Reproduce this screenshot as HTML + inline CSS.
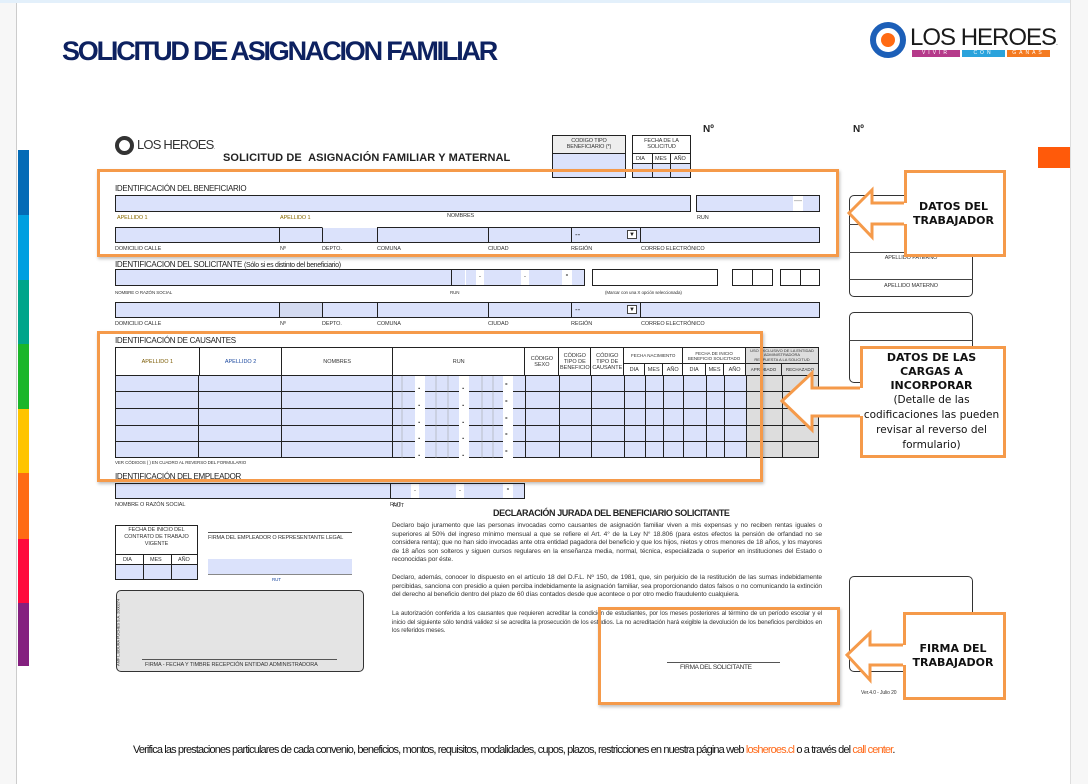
<!DOCTYPE html>
<html><head><meta charset="utf-8">
<style>
*{margin:0;padding:0;box-sizing:border-box}
body{width:1088px;height:784px;position:relative;background:#fff;font-family:"Liberation Sans",Arial,sans-serif;overflow:hidden;color:#222}
.a{position:absolute}
.f{position:absolute;background:#dbe2fb;border:1px solid #222}
.w{position:absolute;background:#fff;border:1px solid #222}
.l{position:absolute;font-size:5.5px;color:#333;white-space:nowrap;letter-spacing:-0.1px}
.o{position:absolute;border:3px solid #f59a4a;box-shadow:1px 2px 3px rgba(0,0,0,.25)}
.cb{position:absolute;border:3px solid #f59a4a;background:#fff;font-family:"DejaVu Sans",sans-serif;font-weight:bold;color:#111;text-align:center;font-size:11px;line-height:14px;display:flex;flex-direction:column;justify-content:center}
.h{position:absolute;font-size:8px;color:#222;white-space:nowrap;letter-spacing:-0.3px}
table{border-collapse:collapse;position:absolute}
td{border:1px solid #222;font-size:5.5px;text-align:center;line-height:6px;padding:0;color:#333}
.p{position:absolute;font-size:6.6px;line-height:8.5px;text-align:justify;color:#333;letter-spacing:-0.1px}
</style></head><body>
<div class="a" style="left:0;top:0;width:1088px;height:3px;background:#e3f0fb"></div>
<div class="a" style="left:0;top:3px;width:17px;height:781px;background:#f7f7f7;border-right:1px solid #ccc"></div>
<div class="a" style="left:1070px;top:0;width:18px;height:784px;background:#f7f7f7;border-left:1px solid #ddd"></div>
<div class="a" style="left:1038px;top:147px;width:32px;height:21px;background:#ff5a0a"></div>
<!-- color bars -->
<div class="a" style="left:18px;top:150px;width:11px;height:65px;background:#046bb6"></div>
<div class="a" style="left:18px;top:215px;width:11px;height:65px;background:#009fe0"></div>
<div class="a" style="left:18px;top:280px;width:11px;height:64px;background:#00a58a"></div>
<div class="a" style="left:18px;top:344px;width:11px;height:65px;background:#1bb62a"></div>
<div class="a" style="left:18px;top:409px;width:11px;height:64px;background:#ffc400"></div>
<div class="a" style="left:18px;top:473px;width:11px;height:66px;background:#ff6b14"></div>
<div class="a" style="left:18px;top:539px;width:11px;height:64px;background:#ff0a3c"></div>
<div class="a" style="left:18px;top:603px;width:11px;height:63px;background:#84207f"></div>

<div class="a" style="left:62px;top:36px;font-size:27px;font-weight:bold;color:#0d2160;letter-spacing:-2.2px;white-space:nowrap">SOLICITUD DE ASIGNACION FAMILIAR</div>

<!-- top logo -->
<div class="a" style="left:870px;top:22px;width:36px;height:36px;border-radius:50%;border:6px solid #1c5fb8"></div>
<div class="a" style="left:881px;top:33px;width:14px;height:14px;border-radius:50%;background:#ff6a13"></div>
<div class="a" style="left:910px;top:24px;font-size:24px;color:#1a1a1a;letter-spacing:-1px;white-space:nowrap">LOS HEROES<span style="font-size:7px">.</span></div>
<div class="a" style="left:912px;top:50px;width:48px;height:7px;background:#b53a8a;color:#fff;font-size:5px;text-align:center;letter-spacing:3px;line-height:7px">VIVIR</div>
<div class="a" style="left:962px;top:50px;width:43px;height:7px;background:#2aa3dc;color:#fff;font-size:5px;text-align:center;letter-spacing:3px;line-height:7px">CON</div>
<div class="a" style="left:1007px;top:50px;width:43px;height:7px;background:#f47a20;color:#fff;font-size:5px;text-align:center;letter-spacing:3px;line-height:7px">GANAS</div>

<!-- inner logo -->
<div class="a" style="left:115px;top:136px;width:19px;height:19px;border-radius:50%;border:4px solid #333"></div>
<div class="a" style="left:121px;top:142px;width:7px;height:7px;border-radius:50%;background:#fff"></div>
<div class="a" style="left:137px;top:137px;font-size:13px;color:#333;white-space:nowrap;letter-spacing:-0.8px">LOS HEROES<span style="font-size:5px">.</span></div>
<div class="a" style="left:223px;top:152px;font-size:11px;font-weight:bold;color:#222;white-space:nowrap;letter-spacing:0.1px">SOLICITUD DE &nbsp;ASIGNACIÓN FAMILIAR Y MATERNAL</div>
<div class="a" style="left:703px;top:124px;font-size:10px;font-weight:bold">Nº</div>
<div class="a" style="left:853px;top:124px;font-size:10px;font-weight:bold">Nº</div>

<!-- codigo / fecha boxes -->
<div class="a" style="left:552px;top:135px;width:74px;height:43px;border:1px solid #222;background:#eee"></div>
<div class="a" style="left:553px;top:153px;width:72px;height:24px;background:#dbe2fb;border-top:1px solid #222"></div>
<div class="l" style="left:553px;top:138px;width:72px;text-align:center;line-height:6px">CODIGO TIPO<br>BENEFICIARIO (*)</div>
<div class="a" style="left:632px;top:135px;width:59px;height:43px;border:1px solid #222;background:#fff"></div>
<div class="a" style="left:633px;top:163px;width:57px;height:14px;background:#dbe2fb;border-top:1px solid #222"></div>
<div class="a" style="left:633px;top:153px;width:57px;height:1px;background:#222"></div>
<div class="a" style="left:652px;top:153px;width:1px;height:25px;background:#222"></div>
<div class="a" style="left:670px;top:153px;width:1px;height:25px;background:#222"></div>
<div class="l" style="left:633px;top:138px;width:57px;text-align:center;line-height:6px">FECHA DE LA<br>SOLICITUD</div>
<div class="l" style="left:636px;top:156px">DIA</div><div class="l" style="left:655px;top:156px">MES</div><div class="l" style="left:674px;top:156px">AÑO</div>

<!-- Beneficiario -->
<div class="h" style="left:115px;top:184px">IDENTIFICACIÓN DEL BENEFICIARIO</div>
<div class="f" style="left:115px;top:195px;width:576px;height:17px"></div>
<div class="f" style="left:696px;top:195px;width:124px;height:17px"></div>
<div class="a" style="left:793px;top:196px;width:10px;height:15px;background:#fff;font-size:8px;text-align:center;color:#888">—</div>
<div class="l" style="left:117px;top:215px;color:#8a6a00">APELLIDO 1</div>
<div class="l" style="left:280px;top:215px;color:#8a6a00">APELLIDO 1</div>
<div class="l" style="left:447px;top:213px">NOMBRES</div>
<div class="l" style="left:697px;top:215px">RUN</div>
<div class="f" style="left:115px;top:227px;width:165px;height:16px"></div>
<div class="f" style="left:279px;top:227px;width:44px;height:16px"></div>
<div class="f" style="left:322px;top:227px;width:56px;height:16px;border-top-color:#fff"></div>
<div class="f" style="left:377px;top:227px;width:112px;height:16px"></div>
<div class="f" style="left:488px;top:227px;width:84px;height:16px"></div>
<div class="f" style="left:571px;top:227px;width:70px;height:16px"></div>
<div class="a" style="left:575px;top:230px;font-size:8px">--</div>
<div class="a" style="left:627px;top:230px;width:10px;height:9px;background:#fff;border:1px solid #444;font-size:6px;text-align:center;line-height:8px">▼</div>
<div class="f" style="left:640px;top:227px;width:180px;height:16px"></div>
<div class="l" style="left:115px;top:246px">DOMICILIO CALLE</div><div class="l" style="left:280px;top:246px">Nº</div><div class="l" style="left:322px;top:246px">DEPTO.</div><div class="l" style="left:377px;top:246px">COMUNA</div><div class="l" style="left:488px;top:246px">CIUDAD</div><div class="l" style="left:571px;top:246px">REGIÓN</div><div class="l" style="left:641px;top:246px">CORREO ELECTRÓNICO</div>

<!-- Solicitante -->
<div class="h" style="left:115px;top:260px">IDENTIFICACION DEL SOLICITANTE <span style="font-size:7px">(Sólo si es distinto del beneficiario)</span></div>
<div class="f" style="left:115px;top:269px;width:337px;height:17px"></div>
<div class="f" style="left:451px;top:269px;width:134px;height:17px"></div>
<div class="a" style="left:465px;top:270px;width:1px;height:15px;background:#fff"></div>
<div class="a" style="left:476px;top:270px;width:8px;height:15px;background:#fff;font-size:8px;text-align:center">.</div>
<div class="a" style="left:521px;top:270px;width:8px;height:15px;background:#fff;font-size:8px;text-align:center">.</div>
<div class="a" style="left:562px;top:270px;width:10px;height:15px;background:#fff;font-size:8px;text-align:center;font-weight:bold">-</div>
<div class="w" style="left:592px;top:269px;width:126px;height:17px"></div>
<div class="w" style="left:732px;top:269px;width:41px;height:17px"></div><div class="a" style="left:752px;top:269px;width:1px;height:17px;background:#222"></div>
<div class="w" style="left:780px;top:269px;width:40px;height:17px"></div><div class="a" style="left:800px;top:269px;width:1px;height:17px;background:#222"></div>
<div class="l" style="left:115px;top:290px;font-size:4.5px">NOMBRE O RAZÓN SOCIAL</div><div class="l" style="left:450px;top:290px;font-size:4.5px">RUN</div>
<div class="l" style="left:605px;top:290px;font-size:4.5px">(Marcar con una X opción seleccionada)</div>
<div class="f" style="left:115px;top:302px;width:165px;height:16px"></div>
<div class="f" style="left:279px;top:302px;width:44px;height:16px;background:#d3daf0"></div>
<div class="f" style="left:322px;top:302px;width:56px;height:16px"></div>
<div class="f" style="left:377px;top:302px;width:112px;height:16px"></div>
<div class="f" style="left:488px;top:302px;width:84px;height:16px"></div>
<div class="f" style="left:571px;top:302px;width:70px;height:16px"></div>
<div class="a" style="left:575px;top:305px;font-size:8px">--</div>
<div class="a" style="left:627px;top:305px;width:10px;height:9px;background:#fff;border:1px solid #444;font-size:6px;text-align:center;line-height:8px">▼</div>
<div class="f" style="left:640px;top:302px;width:180px;height:16px"></div>
<div class="l" style="left:115px;top:321px">DOMICILIO CALLE</div><div class="l" style="left:280px;top:321px">Nº</div><div class="l" style="left:322px;top:321px">DEPTO.</div><div class="l" style="left:377px;top:321px">COMUNA</div><div class="l" style="left:488px;top:321px">CIUDAD</div><div class="l" style="left:571px;top:321px">REGIÓN</div><div class="l" style="left:641px;top:321px">CORREO ELECTRÓNICO</div>

<!-- Causantes -->
<div class="h" style="left:115px;top:336px">IDENTIFICACIÓN DE CAUSANTES</div>
<table style="left:115px;top:347px;width:704px">
<colgroup><col style="width:84px"><col style="width:83px"><col style="width:111px"><col style="width:133px"><col style="width:34px"><col style="width:32px"><col style="width:33px"><col style="width:21px"><col style="width:18px"><col style="width:20px"><col style="width:23px"><col style="width:18px"><col style="width:22px"><col style="width:36px"><col style="width:37px"></colgroup>
<tr style="height:16px"><td rowspan="2" style="color:#7a5a00">APELLIDO 1</td><td rowspan="2" style="color:#1d4aa0">APELLIDO 2</td><td rowspan="2">NOMBRES</td><td rowspan="2">RUN</td><td rowspan="2">CÓDIGO<br>SEXO</td><td rowspan="2">CÓDIGO<br>TIPO DE<br>BENEFICIO</td><td rowspan="2">CÓDIGO<br>TIPO DE<br>CAUSANTE</td><td colspan="3" style="font-size:4.5px">FECHA NACIMIENTO</td><td colspan="3" style="font-size:4.5px;line-height:5px">FECHA DE INICIO<br>BENEFICIO SOLICITADO</td><td colspan="2" style="background:#ddd;font-size:4px;line-height:4.5px">USO EXCLUSIVO DE LA ENTIDAD ADMINISTRADORA<br>RESPUESTA A LA SOLICITUD</td></tr>
<tr style="height:12px"><td>DIA</td><td>MES</td><td>AÑO</td><td>DIA</td><td>MES</td><td>AÑO</td><td style="background:#ddd;font-size:4.5px">APROBADO</td><td style="background:#ddd;font-size:4.5px">RECHAZADO</td></tr>
</table>
<div class="a" style="left:115px;top:375px;width:704px;height:83px;background:#dbe2fb;border:1px solid #222"></div>
<div class="a" style="left:746px;top:375px;width:73px;height:83px;background:#ddd;border:1px solid #222"></div>
<svg class="a" style="left:0;top:0" width="1088" height="784">
<g stroke="#222" stroke-width="1">
<line x1="115" y1="391.5" x2="819" y2="391.5"/><line x1="115" y1="408.5" x2="819" y2="408.5"/><line x1="115" y1="425.5" x2="819" y2="425.5"/><line x1="115" y1="441.5" x2="819" y2="441.5"/>
<line x1="198.5" y1="375" x2="198.5" y2="458"/><line x1="281.5" y1="375" x2="281.5" y2="458"/><line x1="392.5" y1="375" x2="392.5" y2="458"/><line x1="525.5" y1="375" x2="525.5" y2="458"/><line x1="559.5" y1="375" x2="559.5" y2="458"/><line x1="591.5" y1="375" x2="591.5" y2="458"/><line x1="624.5" y1="375" x2="624.5" y2="458"/><line x1="645.5" y1="375" x2="645.5" y2="458"/><line x1="663.5" y1="375" x2="663.5" y2="458"/><line x1="683.5" y1="375" x2="683.5" y2="458"/><line x1="706.5" y1="375" x2="706.5" y2="458"/><line x1="724.5" y1="375" x2="724.5" y2="458"/><line x1="746.5" y1="375" x2="746.5" y2="458"/><line x1="782.5" y1="375" x2="782.5" y2="458"/>
</g>
<g fill="#fff"><rect x="415" y="376" width="10" height="82"/><rect x="459" y="376" width="10" height="82"/><rect x="503" y="376" width="10" height="82"/></g>
<g stroke="#999" stroke-width="0.5"><line x1="402" y1="376" x2="402" y2="458"/><line x1="436" y1="376" x2="436" y2="458"/><line x1="448" y1="376" x2="448" y2="458"/><line x1="482" y1="376" x2="482" y2="458"/><line x1="493" y1="376" x2="493" y2="458"/></g>
<g font-size="8" font-family="Liberation Sans" fill="#111" font-weight="bold">
<text x="418" y="389">.</text><text x="462" y="389">.</text><text x="505" y="386">-</text>
<text x="418" y="406">.</text><text x="462" y="406">.</text><text x="505" y="403">-</text>
<text x="418" y="423">.</text><text x="462" y="423">.</text><text x="505" y="420">-</text>
<text x="418" y="439">.</text><text x="462" y="439">.</text><text x="505" y="436">-</text>
<text x="418" y="456">.</text><text x="462" y="456">.</text><text x="505" y="453">-</text>
</g>
</svg>
<div class="l" style="left:115px;top:460px;font-size:4.5px">VER CÓDIGOS ( ) EN CUADRO AL REVERSO DEL FORMULARIO</div>
<div class="h" style="left:115px;top:472px">IDENTIFICACIÓN DEL EMPLEADOR</div>
<div class="f" style="left:115px;top:483px;width:276px;height:16px"></div>
<div class="f" style="left:390px;top:483px;width:135px;height:16px"></div>
<div class="a" style="left:411px;top:484px;width:8px;height:14px;background:#fff;font-size:8px;text-align:center">.</div>
<div class="a" style="left:456px;top:484px;width:8px;height:14px;background:#fff;font-size:8px;text-align:center">.</div>
<div class="a" style="left:503px;top:484px;width:10px;height:14px;background:#fff;font-size:8px;text-align:center;font-weight:bold">-</div>
<div class="l" style="left:115px;top:502px">NOMBRE O RAZÓN SOCIAL</div><div class="l" style="left:390px;top:502px">RUT</div>

<!-- lower left -->
<div class="a" style="left:115px;top:525px;width:83px;height:55px;border:1px solid #222;background:#fff"></div>
<div class="a" style="left:116px;top:564px;width:81px;height:15px;background:#dbe2fb"></div>
<div class="a" style="left:115px;top:554px;width:83px;height:1px;background:#222"></div>
<div class="a" style="left:115px;top:564px;width:83px;height:1px;background:#222"></div>
<div class="a" style="left:143px;top:554px;width:1px;height:26px;background:#222"></div>
<div class="a" style="left:171px;top:554px;width:1px;height:26px;background:#222"></div>
<div class="l" style="left:115px;top:527px;width:83px;text-align:center;line-height:7px">FECHA DE INICIO DEL<br>CONTRATO DE TRABAJO<br>VIGENTE</div>
<div class="l" style="left:123px;top:557px">DIA</div><div class="l" style="left:150px;top:557px">MES</div><div class="l" style="left:178px;top:557px">AÑO</div>
<div class="a" style="left:208px;top:532px;width:144px;height:1px;background:#555"></div>
<div class="l" style="left:208px;top:535px">FIRMA DEL EMPLEADOR O REPRESENTANTE LEGAL</div>
<div class="a" style="left:208px;top:559px;width:144px;height:16px;background:#dbe2fb;border-bottom:1px solid #888"></div>
<div class="l" style="left:272px;top:577px;font-size:4.5px;color:#1d4aa0">RUT</div>
<div class="a" style="left:116px;top:590px;width:248px;height:82px;background:#e4e4e4;border:1px solid #333;border-radius:5px"></div>
<div class="a" style="left:142px;top:659px;width:195px;height:1px;background:#555"></div>
<div class="l" style="left:145px;top:662px">FIRMA - FECHA Y TIMBRE RECEPCIÓN ENTIDAD ADMINISTRADORA</div>
<div class="l" style="left:78px;top:630px;font-size:4px;transform:rotate(-90deg);width:80px;text-align:center">AMF L.BOURA PUCHES S.A. 2000274</div>

<!-- declaracion -->
<div class="l" style="left:393px;top:503px">RUT</div>
<div class="a" style="left:493px;top:508px;font-size:9px;font-weight:bold;white-space:nowrap;letter-spacing:-0.4px">DECLARACIÓN JURADA DEL BENEFICIARIO SOLICITANTE</div>
<div class="p" style="left:392px;top:522px;width:430px">Declaro bajo juramento que las personas invocadas como causantes de asignación familiar viven a mis expensas y no reciben rentas iguales o superiores al 50% del ingreso mínimo mensual a que se refiere el Art. 4° de la Ley N° 18.806 (para estos efectos la pensión de orfandad no se considera renta); que no han sido invocadas ante otra entidad pagadora del beneficio y que los hijos, nietos y otros menores de 18 años, y los mayores de 18 años son solteros y siguen cursos regulares en la enseñanza media, normal, técnica, especializada o superior en instituciones del Estado o reconocidas por éste.</div>
<div class="p" style="left:392px;top:574px;width:430px">Declaro, además, conocer lo dispuesto en el artículo 18 del D.F.L. Nº 150, de 1981, que, sin perjuicio de la restitución de las sumas indebidamente percibidas, sanciona con presidio a quien perciba indebidamente la asignación familiar, sea proporcionando datos falsos o no comunicando la extinción del derecho al beneficio dentro del plazo de 60 días contados desde que acontece o por otro medio fraudulento cualquiera.</div>
<div class="p" style="left:392px;top:610px;width:430px;font-size:6.2px">La autorización conferida a los causantes que requieren acreditar la condición de estudiantes, por los meses posteriores al término de un período escolar y el inicio del siguiente sólo tendrá validez si se acredita la prosecución de los estudios. La no acreditación hará exigible la devolución de los beneficios percibidos en los referidos meses.</div>
<div class="a" style="left:667px;top:662px;width:113px;height:1px;background:#555"></div>
<div class="l" style="left:680px;top:664px;font-size:6.5px;letter-spacing:-0.3px">FIRMA DEL SOLICITANTE</div>

<!-- right boxes -->
<div class="a" style="left:849px;top:195px;width:124px;height:102px;border:1px solid #333;border-radius:5px"></div>
<div class="a" style="left:849px;top:224px;width:124px;height:1px;background:#444"></div>
<div class="a" style="left:849px;top:252px;width:124px;height:1px;background:#444"></div>
<div class="a" style="left:849px;top:279px;width:124px;height:1px;background:#444"></div>
<div class="l" style="left:849px;top:255px;width:124px;text-align:center">APELLIDO PATERNO</div>
<div class="l" style="left:849px;top:283px;width:124px;text-align:center">APELLIDO MATERNO</div>
<div class="a" style="left:849px;top:312px;width:124px;height:71px;border:1px solid #333;border-radius:5px"></div>
<div class="a" style="left:849px;top:340px;width:124px;height:1px;background:#444"></div>
<div class="a" style="left:849px;top:576px;width:124px;height:96px;border:1px solid #333;border-radius:5px"></div>
<div class="l" style="left:861px;top:690px;font-size:5px">Ver.4.0 - Julio 20</div>

<!-- orange highlight boxes -->
<div class="o" style="left:97px;top:169px;width:742px;height:88px"></div>
<div class="o" style="left:97px;top:331px;width:666px;height:151px"></div>
<div class="o" style="left:598px;top:607px;width:242px;height:98px"></div>

<!-- arrows -->
<svg class="a" style="left:0;top:0" width="1088" height="784">
<g fill="#fff" stroke="#f59a4a" stroke-width="3" stroke-linejoin="miter">
<polygon points="849,213 872,190 872,203 906,203 906,224 872,224 872,237"/>
<polygon points="782,401 812,373 812,388 862,388 862,416 812,416 812,430"/>
<polygon points="847,655 870,633 870,645 905,645 905,665 870,665 870,680"/>
</g>
</svg>
<div class="cb" style="left:904px;top:170px;width:102px;height:87px;border-left:none">DATOS DEL<br>TRABAJADOR</div>
<div class="cb" style="left:860px;top:346px;width:146px;height:112px;border-left:none;font-size:11px"><span>DATOS DE LAS<br>CARGAS A<br>INCORPORAR</span><span style="font-weight:normal;font-size:10.5px;line-height:15px">(Detalle de las<br>codificaciones las pueden<br>revisar al reverso del<br>formulario)</span></div>
<div class="cb" style="left:903px;top:612px;width:103px;height:88px;border-left:none">FIRMA DEL<br>TRABAJADOR</div>
<div class="a" style="left:903px;top:612px;width:3px;height:33px;background:#f59a4a"></div>
<div class="a" style="left:903px;top:665px;width:3px;height:35px;background:#f59a4a"></div>
<div class="a" style="left:904px;top:170px;width:3px;height:33px;background:#f59a4a"></div>
<div class="a" style="left:904px;top:224px;width:3px;height:33px;background:#f59a4a"></div>
<div class="a" style="left:860px;top:346px;width:3px;height:42px;background:#f59a4a"></div>
<div class="a" style="left:860px;top:416px;width:3px;height:42px;background:#f59a4a"></div>

<!-- footer -->
<div class="a" style="left:133px;top:744px;width:766px;font-size:11px;white-space:nowrap;letter-spacing:-0.87px;color:#111">Verifica las prestaciones particulares de cada convenio, beneficios, montos, requisitos, modalidades, cupos, plazos, restricciones en nuestra página web <span style="color:#ff6a1a">losheroes.cl</span> o a través del <span style="color:#ff6a1a">call center</span>.</div>
</body></html>
